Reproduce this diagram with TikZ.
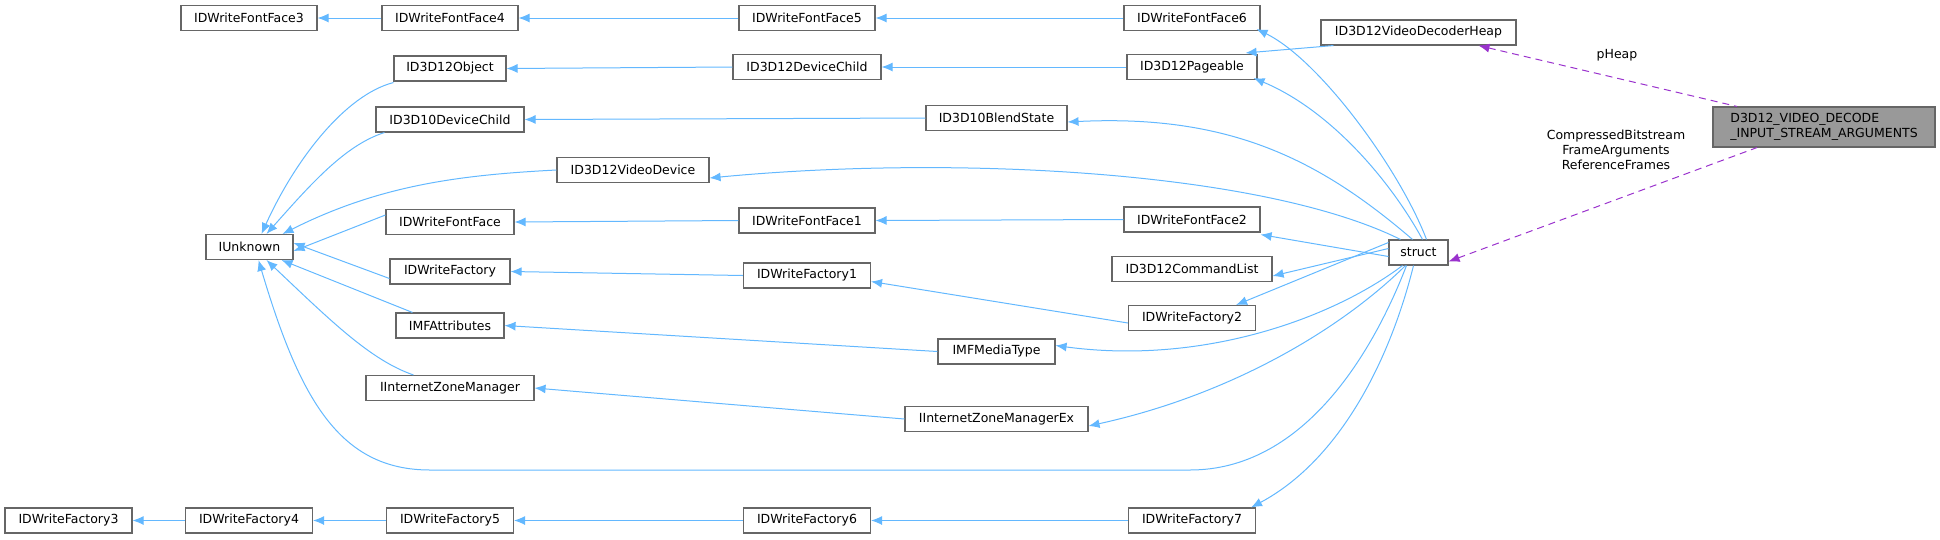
\documentclass[tikz,border=0pt]{standalone}
\usepackage{fontspec}
\setmainfont{DejaVu Sans}
\usetikzlibrary{arrows.meta}
\definecolor{edgeblue}{HTML}{63B8FF}
\definecolor{boxgray}{HTML}{666666}
\definecolor{purp}{HTML}{9A32CD}
\definecolor{fillgray}{HTML}{999999}
\begin{document}
\begin{tikzpicture}[x=1pt,y=-1pt,
  box/.style={draw=boxgray,line width=1.1pt,fill=white,inner sep=0pt,minimum height=25pt,font=\fontsize{12.5}{14.7}\selectfont},
  w/.style={minimum width=#1pt},
  inh/.style={{Latex[length=11pt,width=9pt]}-,draw=edgeblue,line width=1pt},
  mem/.style={{Latex[length=11pt,width=9pt]}-,draw=purp,line width=1pt,dash pattern=on 7pt off 5pt},
  lbl/.style={font=\fontsize{12.5}{14.7}\selectfont,align=center,inner sep=0pt}]
\useasboundingbox (0,0) rectangle (1940,539);
% nodes
\node[box,w=136] (ff3) at (249,18) {IDWriteFontFace3};
\node[box,w=136] (ff4) at (450,18) {IDWriteFontFace4};
\node[box,w=136] (ff5) at (807,18) {IDWriteFontFace5};
\node[box,w=136] (ff6) at (1192,18) {IDWriteFontFace6};
\node[box,w=195] (heap) at (1418.5,32.5) {ID3D12VideoDecoderHeap};
\node[box,w=112] (obj) at (450,68.5) {ID3D12Object};
\node[box,w=148] (dc) at (807,67) {ID3D12DeviceChild};
\node[box,w=130] (pg) at (1192,67) {ID3D12Pageable};
\node[box,w=148] (d10) at (450,119.5) {ID3D10DeviceChild};
\node[box,w=141] (bs) at (996.5,118) {ID3D10BlendState};
\node[box,w=152] (vd) at (633,170) {ID3D12VideoDevice};
\node[box,w=128] (ff) at (450,222) {IDWriteFontFace};
\node[box,w=136] (ff1) at (807,220.5) {IDWriteFontFace1};
\node[box,w=136] (ff2) at (1192,219.5) {IDWriteFontFace2};
\node[box,w=87] (iu) at (249.5,247) {IUnknown};
\node[box,w=59] (st) at (1418.5,252.5) {struct};
\node[box,w=160] (cl) at (1192,269) {ID3D12CommandList};
\node[box,w=120] (fa) at (450,271.5) {IDWriteFactory};
\node[box,w=127] (fa1) at (807,275.5) {IDWriteFactory1};
\node[box,w=127] (fa2) at (1192,318) {IDWriteFactory2};
\node[box,w=108] (mfa) at (450,325.5) {IMFAttributes};
\node[box,w=117] (mt) at (996.5,351.5) {IMFMediaType};
\node[box,w=168] (izm) at (450,388) {IInternetZoneManager};
\node[box,w=183] (izx) at (996.5,419) {IInternetZoneManagerEx};
\node[box,w=127] (fa3) at (68.5,520.5) {IDWriteFactory3};
\node[box,w=127] (fa4) at (249,520.5) {IDWriteFactory4};
\node[box,w=127] (fa5) at (450,520.5) {IDWriteFactory5};
\node[box,w=127] (fa6) at (807,520.5) {IDWriteFactory6};
\node[box,w=127] (fa7) at (1192,520.5) {IDWriteFactory7};
\node[box,w=222,minimum height=40pt,fill=fillgray,align=left] (main) at (1824,127) {D3D12\_VIDEO\_DECODE\\\_INPUT\_STREAM\_ARGUMENTS};
% straight inheritance
\draw[inh] (ff3.east) -- (ff4.west);
\draw[inh] (ff4.east) -- (ff5.west);
\draw[inh] (ff5.east) -- (ff6.west);
\draw[inh] (obj.east) -- (dc.west);
\draw[inh] (dc.east) -- (pg.west);
\draw[inh] (d10.east) -- (bs.west);
\draw[inh] (ff.east) -- (ff1.west);
\draw[inh] (ff1.east) -- (ff2.west);
\draw[inh] (fa.east) -- (fa1.west);
\draw[inh] ([yshift=-6pt]fa1.east) -- ([yshift=-5pt]fa2.west);
\draw[inh] (mfa.east) -- (mt.west);
\draw[inh] (izm.east) -- (izx.west);
\draw[inh] (fa3.east) -- (fa4.west);
\draw[inh] (fa4.east) -- (fa5.west);
\draw[inh] (fa5.east) -- (fa6.west);
\draw[inh] (fa6.east) -- (fa7.west);
\draw[inh] ([xshift=-12pt,yshift=1pt]pg.north east) -- ([xshift=13pt]heap.south west);
% to IUnknown
\draw[inh] ([xshift=12pt]iu.north) .. controls (295,160) and (345,95) .. ([yshift=-1pt]obj.south west);
\draw[inh] ([xshift=17pt]iu.north) .. controls (310,185) and (345,145) .. ([xshift=9pt]d10.south west);
\draw[inh] ([xshift=33pt]iu.north) .. controls (380,185) and (460,175) .. (vd.west);
\draw[inh] ([yshift=-4pt]iu.east) -- ([yshift=7pt]ff.west);
\draw[inh] ([yshift=4pt]iu.east) -- ([yshift=-7pt]fa.west);
\draw[inh] ([xshift=-12pt]iu.south east) -- ([xshift=17pt]mfa.north west);
\draw[inh] ([xshift=17pt]iu.south) .. controls (330,320) and (370,360) .. ([xshift=48pt]izm.north west);
\draw[inh] ([xshift=9pt]iu.south) .. controls (300,400) and (340,470) .. (430,470) -- (1190,470) .. controls (1300,470) and (1370,360) .. ([xshift=-12pt]st.south);
% from struct
\draw[inh] ([xshift=-4pt,yshift=2pt]ff6.south east) .. controls (1320,60) and (1400,170) .. ([xshift=8pt]st.north);
\draw[inh] ([xshift=-4pt,yshift=2pt]pg.south east) .. controls (1330,110) and (1390,180) .. ([xshift=4pt]st.north);
\draw[inh] ([yshift=-4pt]bs.east) .. controls (1230,114) and (1320,160) .. ([xshift=-6pt]st.north);
\draw[inh] ([yshift=-8pt]vd.east) .. controls (950,155) and (1260,170) .. ([xshift=-18pt]st.north);
\draw[inh] ([yshift=-2pt]ff2.south east) -- ([yshift=-4pt]st.west);
\draw[inh] ([yshift=-7pt]cl.east) -- ([yshift=4pt]st.west);
\draw[inh] ([xshift=-20pt]fa2.north east) -- ([yshift=10pt]st.west);
\draw[inh] ([yshift=6pt]mt.east) .. controls (1200,365) and (1330,320) .. ([xshift=-16pt]st.south);
\draw[inh] ([yshift=-7pt]izx.east) .. controls (1230,395) and (1340,330) .. ([xshift=-13pt]st.south);
\draw[inh] ([xshift=-5pt]fa7.north east) .. controls (1340,460) and (1390,360) .. ([xshift=-5pt]st.south);
% member edges
\draw[mem] ([xshift=60pt]heap.south) -- ([xshift=-87pt]main.north);
\draw[mem] ([yshift=-9pt]st.east) -- ([xshift=-67pt]main.south);
\node[lbl] (lh) at (1617,55) {pHeap};
\node[lbl] (lm) at (1616,150) {CompressedBitstream\\FrameArguments\\ReferenceFrames};
\end{tikzpicture}
\end{document}
